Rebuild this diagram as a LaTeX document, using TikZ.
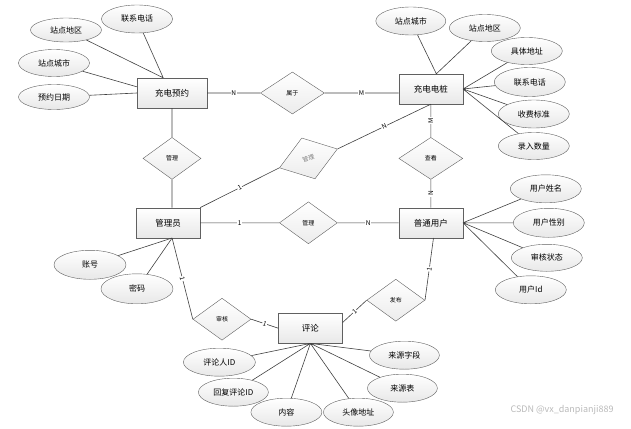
\documentclass[tikz,border=0pt]{standalone}
\usepackage{fontspec}
\newfontfamily\cjk{Noto Sans CJK SC}
\usepackage{tikz}
\usetikzlibrary{positioning,calc,shapes,shadows}
\tikzstyle{every picture}+=[font=\cjk]
\tikzset{%
  entity/.style={%
    draw=gray!75!black, top color=white, bottom color=gray!18,
    minimum width=64pt, minimum height=30pt, inner sep=0pt,
    font=\cjk\fontsize{8.5}{10}\selectfont,
    drop shadow={shadow xshift=1pt, shadow yshift=-1pt, opacity=.25}
  },
  relation/.style={%
    shape=diamond, draw=gray!75!black, top color=white, bottom color=gray!15,
    minimum width=58pt, minimum height=42pt, inner sep=0pt,
    font=\cjk\fontsize{6}{7}\selectfont
  },
  attribute/.style={%
    shape=ellipse, draw=gray!75!black, top color=white, bottom color=gray!18,
    minimum width=71pt, minimum height=27pt, inner sep=0pt,
    font=\cjk\fontsize{8}{9}\selectfont
  },
  link/.style={draw=black!75, line width=.6pt},
  card/.style={fill=white, inner sep=.6pt, sloped, font=\cjk\fontsize{6.5}{7}\selectfont},
}

\begin{document}
\begin{tikzpicture}[x=1pt, y=1pt]
        \useasboundingbox (0,0) rectangle (631,-428);

        % entities and relations
        \node (ChargeBooking)[entity, minimum width=70pt] at (172,-93) {充电预约};
        \node (Belong)[relation, minimum width=64pt, right=53pt of ChargeBooking] {属于};
        \node (ChargePile)[entity, right=74pt of Belong, yshift=4pt] {充电电桩};
        \node (ManageBooking)[relation, below=29pt of ChargeBooking] {管理};
        \node (Admin)[entity, below=28pt of ManageBooking, xshift=-4pt] {管理员};
        \node (ManageUser)[relation, right=79pt of Admin] {管理};
        \node (User)[entity, right=61pt of ManageUser] {普通用户};
        \node (View)[relation, minimum width=64pt, above=28pt of User] {查看};
        \node (ManagePile)[relation, rotate=18, minimum width=61pt, minimum height=43pt, text=gray] at (ManageUser |- View) {管理};
        \node (Comment)[entity, below=69pt of ManageUser, xshift=2pt] {评论};
        \node (Audit)[relation, left=27pt of Comment, yshift=9pt] {审核};
        \node (Publish)[relation, right=24pt of Comment, yshift=28pt] {发布};

        % attributes
        \node (BookingArea)[attribute, minimum height=24pt] at ($(ChargeBooking)+(-106,63)$) {站点地区};
        \node (BookingPhone)[attribute, minimum height=28pt] at ($(ChargeBooking)+(-35,74)$) {联系电话};
        \node (BookingCity)[attribute] at ($(ChargeBooking)+(-118,30)$) {站点城市};
        \node (BookingDate)[attribute, minimum height=25pt] at ($(ChargeBooking)+(-118,-4)$) {预约日期};

        \node (PileCity)[attribute, minimum width=70pt, minimum height=28pt] at ($(ChargePile)+(-20,68)$) {站点城市};
        \node (PileArea)[attribute] at ($(ChargePile)+(54,61)$) {站点地区};
        \node (PileAddress)[attribute] at ($(ChargePile)+(96,38)$) {具体地址};
        \node (PilePhone)[attribute, minimum height=29pt] at ($(ChargePile)+(99,7)$) {联系电话};
        \node (PileFee)[attribute, minimum height=28pt] at ($(ChargePile)+(103,-25)$) {收费标准};
        \node (PileCount)[attribute] at ($(ChargePile)+(103,-57)$) {录入数量};

        \node (UserName)[attribute, minimum height=28pt] at ($(User)+(115,34)$) {用户姓名};
        \node (UserGender)[attribute, minimum height=29pt] at ($(User)+(118,0)$) {用户性别};
        \node (UserState)[attribute] at ($(User)+(116,-35)$) {审核状态};
        \node (UserId)[attribute, minimum height=28pt] at ($(User)+(100,-67)$) {用户Id};

        \node (AdminAccount)[attribute, minimum width=72pt, minimum height=29pt] at ($(Admin)+(-78,-42)$) {账号};
        \node (AdminPassword)[attribute, minimum width=72pt, minimum height=30pt] at ($(Admin)+(-31,-66)$) {密码};

        \node (Commenter)[attribute, minimum width=72pt, minimum height=28pt] at ($(Comment)+(-91,-34)$) {评论人ID};
        \node (ReplyId)[attribute, minimum width=70pt, minimum height=28pt] at ($(Comment)+(-77,-64)$) {回复评论ID};
        \node (Content)[attribute, minimum height=28pt] at ($(Comment)+(-24,-84)$) {内容};
        \node (Avatar)[attribute, minimum width=70pt, minimum height=28pt] at ($(Comment)+(48,-84)$) {头像地址};
        \node (SourceTable)[attribute, minimum width=70pt, minimum height=28pt] at ($(Comment)+(92,-60)$) {来源表};
        \node (SourceField)[attribute, minimum width=70pt, minimum height=28pt] at ($(Comment)+(94,-27)$) {来源字段};

        \node (Watermark)[text=gray!55, font=\cjk\fontsize{9}{10}\selectfont] at (562,-410) {CSDN @vx\_danpianji889};

        % relation lines
        \path[link]
            (ChargeBooking) -- node[card]{N} (Belong)
            (Belong) -- node[card]{M} (Belong -| ChargePile.west)
            (ChargeBooking) -- (ManageBooking)
            (ManageBooking) -- (ManageBooking |- Admin.north)
            (Admin.north east) -- node[card]{1} (ManagePile.west)
            (ManagePile.east) -- node[card]{N} (ChargePile.south)
            (View.north) -- node[card]{M} (ChargePile.south)
            (User.north) -- node[card]{N} (View.south)
            (Admin) -- node[card]{1} (ManageUser)
            (ManageUser) -- node[card]{N} (User)
            (Admin.-75) -- node[card]{1} (Audit.west)
            (Audit.east) -- node[card]{1} (Comment.west)
            (User.-80) -- node[card]{1} (Publish.east)
            (Publish.west) -- node[card]{1} (Comment.10)
            ;

        % attribute lines
        \path[link]
            (BookingArea) -- (ChargeBooking.120)
            (BookingPhone) -- (ChargeBooking.120)
            (BookingCity) -- (ChargeBooking.170)
            (BookingDate) -- (ChargeBooking.west)
            (PileCity) -- (ChargePile.70)
            (PileArea) -- (ChargePile.70)
            (PileAddress) -- (ChargePile.east)
            (PilePhone) -- (ChargePile.east)
            (PileFee) -- (ChargePile.east)
            (PileCount) -- (ChargePile.east)
            (UserName) -- (User.east)
            (UserGender) -- (User.east)
            (UserState) -- (User.east)
            (UserId) -- (User.east)
            (AdminAccount) -- (Admin.-75)
            (AdminPassword) -- (Admin.-75)
            (Commenter) -- (Comment.south)
            (ReplyId) -- (Comment.south)
            (Content) -- (Comment.south)
            (Avatar) -- (Comment.south)
            (SourceTable) -- (Comment.south)
            (SourceField) -- (Comment.south)
            ;
\end{tikzpicture}
\end{document}
